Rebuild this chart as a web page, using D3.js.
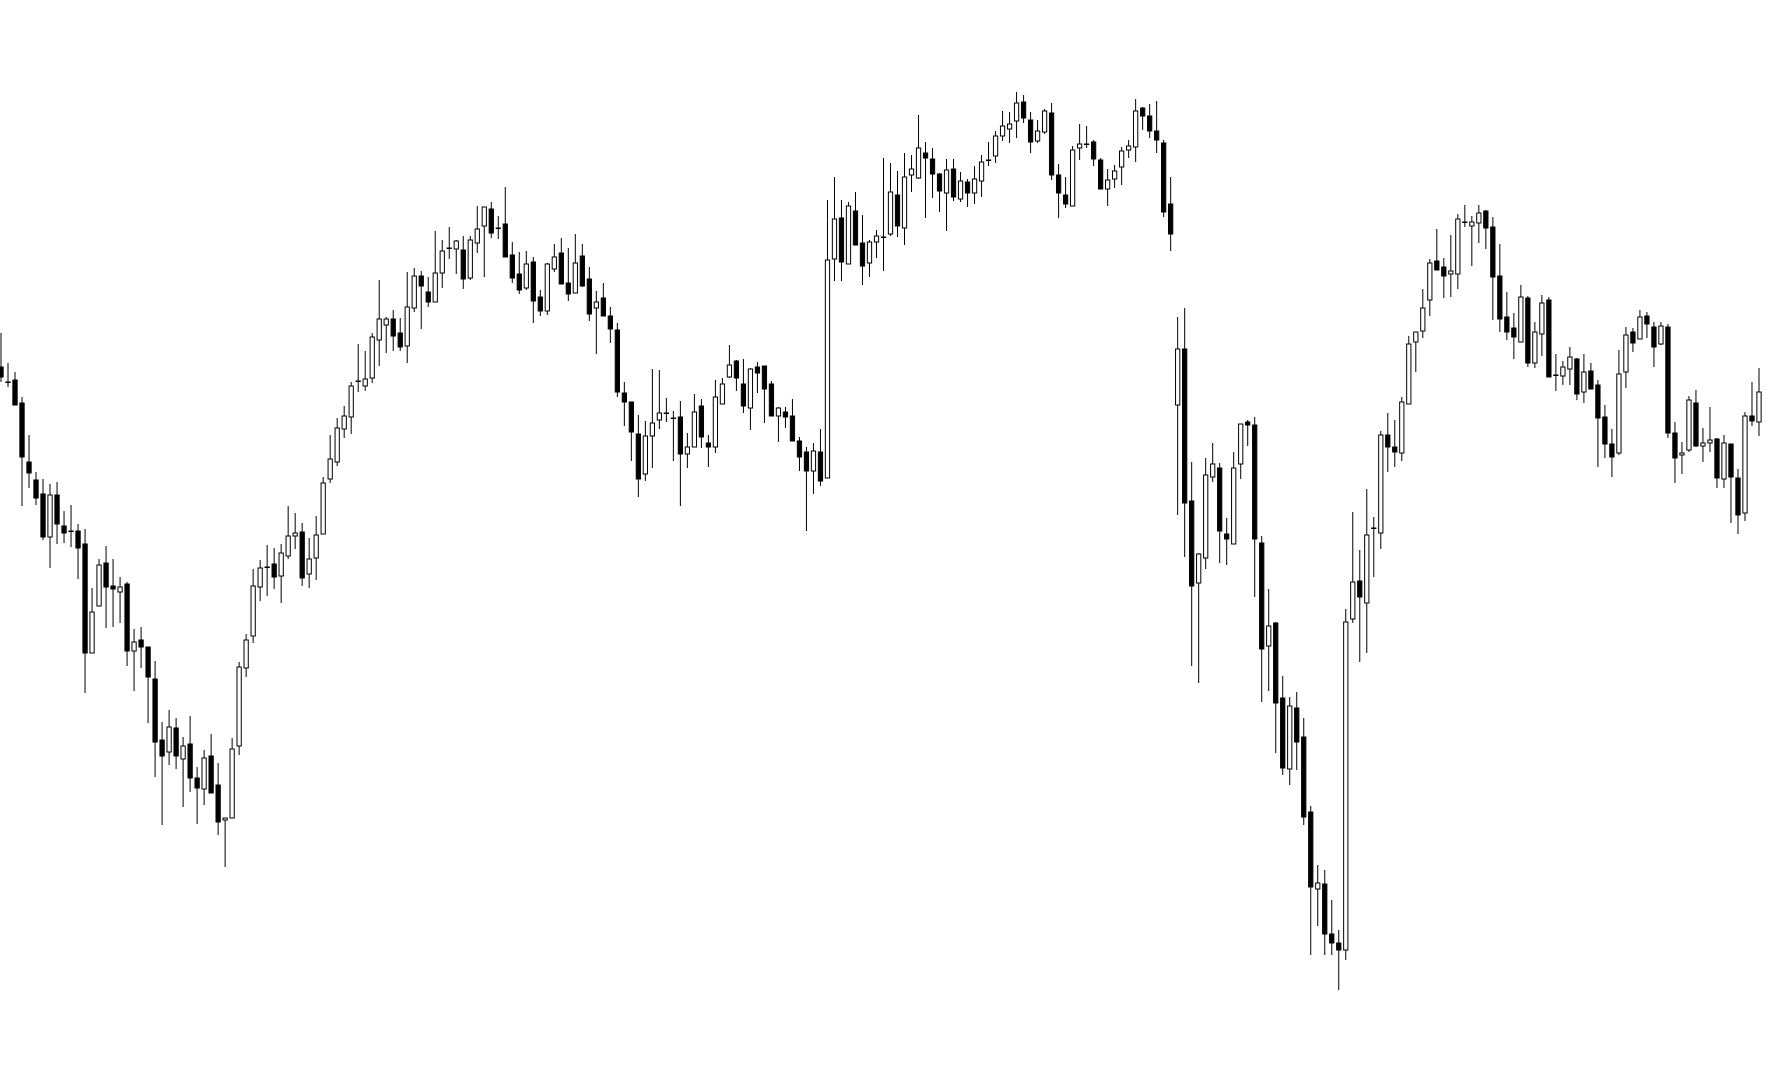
<!DOCTYPE html>
<html>
<head>
<meta charset="utf-8">
<script src="https://cdn.jsdelivr.net/npm/d3@7/dist/d3.min.js"></script>
<style>
html,body{margin:0;padding:0;background:#fff;overflow:hidden;}
svg{display:block;}
</style>
</head>
<body>
<script>
const open = [733,718,720,697,638,620,606,563,605,574, 569,569,556,447,494,537,514,508,516,449, 460,453,421,360,348,372,341,356,322,311, 344,315,280,282,354,432,464,513,533,536, 524,544,564,568,526,542,566,621,638,671, 683,719,714,722,760,775,781,767,754,792, 824,808,798,827,852,851,850,822,857,874, 891,872,876,845,826,812,838,803,789,831, 847,817,807,844,821,792,802,784,770,707, 698,666,626,664,680,687,682,683,646,653, 694,657,653,696,723,739,716,692,733,734, 716,684,688,684,659,648,629,648,622,841, 882,836,889,857,837,858,863,866,905,872, 925,922,947,941,926,907,931,901,918,907, 919,940,944,964,971,979,998,980,959,968, 987,925,905,894,952,956,958,940,911,921, 933,950,953,992,984,969,957,896,695,751, 599,517,542,623,632,566,556,636,678,675, 557,454,477,402,331,392,363,288,211,216, 166,157,150,481,519,497,572,567,665,653, 647,696,758,769,800,839,833,826,826,878, 874,877,889,873,824,783,772,758,802,737, 766,800,725,724,731,741,708,729,715,683, 656,647,728,768,761,784,773,756,773,667, 645,650,697,654,657,661,621,656,622,587, 684,678];
const high = [767,737,728,703,665,628,621,616,618,589, 595,576,571,512,541,554,541,523,518,471, 473,453,439,378,390,382,363,384,333,350, 366,337,282,362,438,466,531,540,555,552, 556,594,587,577,562,584,623,665,682,694, 718,756,749,767,820,783,790,782,828,832, 829,823,869,860,873,860,864,864,894,893, 898,884,913,858,848,849,843,810,837,856, 862,852,866,856,833,809,817,793,777,718, 698,685,679,731,730,702,689,699,667,706, 701,665,720,722,755,740,741,732,738,734, 719,693,693,701,663,653,657,671,900,923, 900,898,908,885,860,870,942,937,929,947, 945,985,958,952,927,941,941,928,921,934, 945,958,969,989,988,1008,1005,988,980,991, 997,936,923,954,976,974,960,942,931,935, 953,960,1001,993,996,999,960,923,783,792, 638,547,642,657,637,582,648,676,680,683, 564,511,478,424,403,408,382,294,235,230, 200,170,491,588,550,611,583,669,687,680, 703,764,768,811,841,871,842,865,886,895, 884,895,890,883,856,808,787,815,804,778, 805,803,746,739,753,742,746,737,720,695, 671,750,773,772,790,788,778,778,776,678, 658,704,710,672,693,662,665,656,631,688, 718,732];
const low = [718,713,695,594,612,595,560,532,556,557, 553,521,407,447,494,472,473,477,434,409, 432,377,323,275,335,331,293,308,276,295, 307,265,233,282,345,423,457,499,504,511, 497,541,551,514,512,520,566,617,634,662, 666,708,709,717,734,747,749,749,737,788, 771,793,798,812,841,826,811,820,847,823, 862,861,843,817,806,810,777,784,785,828, 816,799,807,813,779,746,784,757,703,674, 639,603,619,632,671,678,639,594,632,653, 652,633,647,696,722,709,687,670,707,677, 684,658,672,659,629,569,606,614,622,819, 819,836,855,815,823,842,829,864,863,855, 908,921,882,902,888,869,899,898,893,896, 903,934,937,959,957,962,977,947,957,966, 920,882,892,894,940,952,934,911,894,912, 915,942,938,970,962,947,883,849,585,543, 434,417,531,618,537,535,556,621,654,503, 398,409,347,325,315,330,275,145,174,145, 145,110,140,477,438,447,523,551,628,633, 639,696,728,762,784,830,802,803,811,873, 834,857,851,780,768,760,741,758,733,732, 744,723,709,715,715,700,697,711,633,642, 623,645,712,748,761,762,733,755,662,617, 626,648,653,638,648,612,612,577,566,579, 674,664];
const close = [723,718,695,643,627,602,563,605,576,567, 569,552,447,488,535,513,511,513,449,458, 453,423,358,344,373,344,354,322,312,342, 307,278,282,351,433,460,514,532,533,523, 547,564,567,522,541,565,617,641,672,684, 714,719,721,763,781,781,764,753,793,824, 814,798,827,849,852,859,821,860,871,893, 867,872,843,822,810,836,799,789,836,843, 816,806,837,814,786,798,784,771,708,698, 668,621,664,677,687,687,682,646,653,688, 663,653,703,716,735,722,694,731,727,711, 684,692,683,659,643,629,649,619,840,881, 838,894,855,834,858,864,863,908,874,923, 931,952,942,926,909,930,903,919,907,921, 938,940,964,974,976,997,982,958,969,989, 925,907,896,950,956,956,941,911,920,929, 949,954,989,984,969,960,888,866,751,597, 514,546,625,636,569,561,632,676,675,561, 451,474,397,332,394,358,283,213,217,166, 157,150,478,518,503,565,572,665,653,648, 698,756,768,792,837,830,824,829,881,878, 878,887,872,823,781,768,763,803,737,768, 797,723,725,733,743,706,728,711,682,656, 643,726,765,757,783,776,753,774,667,642, 647,700,654,657,660,622,657,623,585,684, 679,708];

const W = 1766, H = 1081;
const data = open.map((o, i) => ({i, o, h: high[i], l: low[i], c: close[i]}));

const svg = d3.select("body").append("svg").attr("width", W).attr("height", H);
svg.append("rect").attr("width", W).attr("height", H).attr("fill", "#fff");

const x = d3.scalePoint().domain(d3.range(data.length)).range([1, 1759]);
const y = d3.scaleLinear().domain([0, 1100]).range([1100, 0]);
const bw = x.step() * 0.75;

const g = svg.append("g");
g.selectAll("line.wick").data(data).join("line")
  .attr("class", "wick")
  .attr("x1", d => x(d.i)).attr("x2", d => x(d.i))
  .attr("y1", d => y(d.h)).attr("y2", d => y(d.l))
  .attr("stroke", "#000").attr("stroke-width", 1);

g.selectAll("rect.body").data(data).join("rect")
  .attr("class", "body")
  .attr("x", d => x(d.i) - (bw - 1) / 2)
  .attr("width", bw - 1)
  .attr("y", d => y(Math.max(d.o, d.c)))
  .attr("height", d => Math.max(Math.abs(y(d.o) - y(d.c)), 0.5))
  .attr("fill", d => d.c < d.o ? "#000" : "#fff")
  .attr("stroke", "#000").attr("stroke-width", 1);
</script>
</body>
</html>
